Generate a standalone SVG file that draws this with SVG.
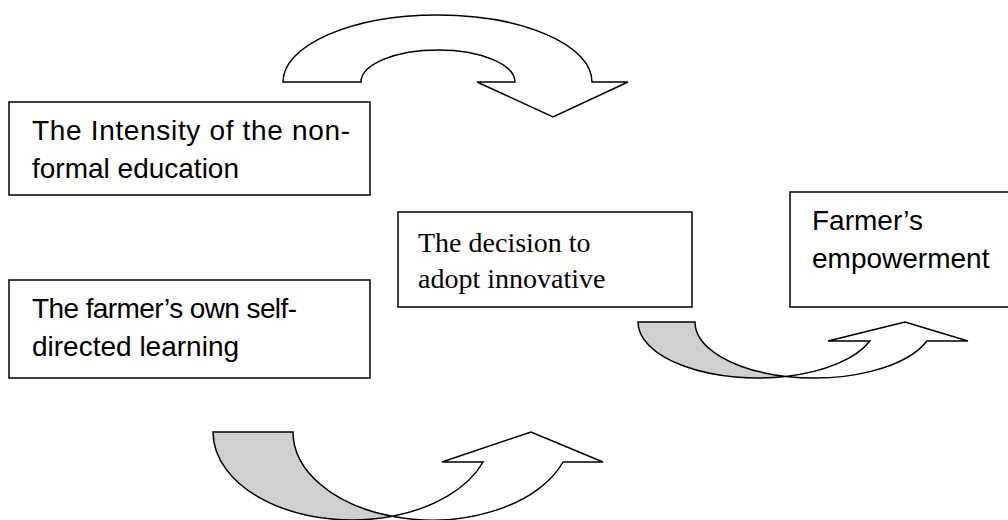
<svg xmlns="http://www.w3.org/2000/svg" width="1008" height="520" viewBox="0 0 1008 520">
<style>
.box{fill:#fff;stroke:#000;stroke-width:1.5}
.arr{fill:#fff;stroke:#000;stroke-width:1.5;stroke-linejoin:miter}
.back{fill:#d0d0d0;stroke:#000;stroke-width:1.5}
.sans{font-family:"Liberation Sans",Arial,sans-serif;font-size:28px;fill:#000}
.serif{font-family:"Liberation Serif","Times New Roman",serif;font-size:28px;fill:#000}
</style>
<rect width="1008" height="520" fill="#fff"/>
<g id="n1">
<rect class="box" x="9" y="102" width="361" height="93"/>
<text class="sans" x="32" y="140" textLength="318">The Intensity of the non-</text>
<text class="sans" x="32" y="178">formal education</text>
</g>
<g id="n2">
<rect class="box" x="9" y="280" width="361" height="98"/>
<text class="sans" x="32" y="318" textLength="265">The farmer’s own self-</text>
<text class="sans" x="32" y="356">directed learning</text>
</g>
<g id="n3">
<rect class="box" x="398" y="212" width="294" height="95"/>
<text class="serif" x="418" y="252">The decision to</text>
<text class="serif" x="418" y="288">adopt innovative</text>
</g>
<g id="n4">
<rect class="box" x="790" y="192" width="222" height="115"/>
<text class="sans" x="812" y="230">Farmer’s</text>
<text class="sans" x="812" y="268">empowerment</text>
</g>
<g id="connectors">
<path class="arr" d="M283,82 A154.5,67 0 0 1 592,82 L628,82 L553,117 L477,82 L515,82 A77,32 0 0 0 361,82 Z"/>
<path class="back" d="M638,322 A119.5,56 0 0 0 786,376.4 A119.5,56 0 0 1 695,322 Z"/>
<path class="arr" d="M786,376.4 A119.5,56 0 0 0 869.9,341 L828,341 L905,322 L968,341 L926.9,341 A119.5,56 0 0 1 786,376.4 Z"/>
<path class="back" d="M213,432 A139.2,88 0 0 0 392.2,516.3 A139.2,88 0 0 1 293,432 Z"/>
<path class="arr" d="M392.2,516.3 A139.2,88 0 0 0 483.1,462 L442,462 L531,432 L603,462 L563.1,462 A139.2,88 0 0 1 392.2,516.3 Z"/>
</g>
</svg>
